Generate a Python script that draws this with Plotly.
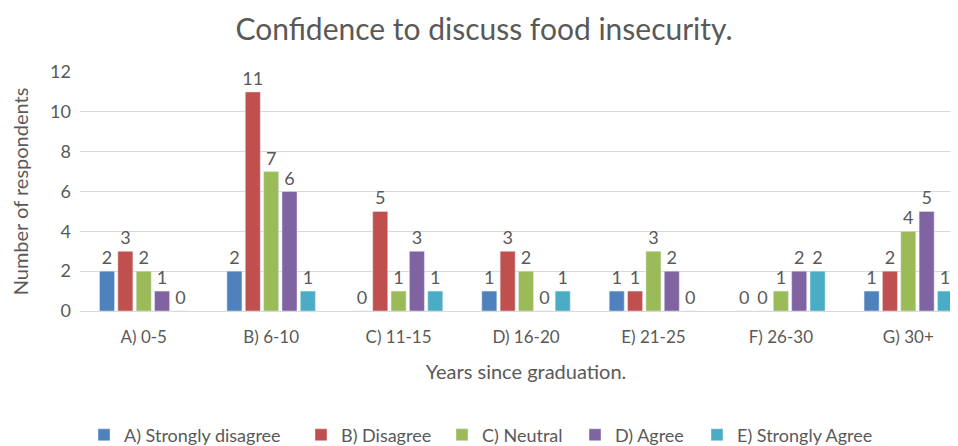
import plotly.graph_objects as go

categories = ["A) 0-5", "B) 6-10", "C) 11-15", "D) 16-20", "E) 21-25", "F) 26-30", "G) 30+"]
strongly_disagree = [2, 2, 0, 1, 1, 0, 1]
disagree = [3, 11, 5, 3, 1, 0, 2]
neutral = [2, 7, 1, 2, 3, 1, 4]
agree = [1, 6, 3, 0, 2, 2, 5]
strongly_agree = [0, 1, 1, 1, 0, 2, 1]

series = [
    ("A) Strongly disagree", strongly_disagree, "#4F81BD"),
    ("B) Disagree", disagree, "#C0504D"),
    ("C) Neutral", neutral, "#9BBB59"),
    ("D) Agree", agree, "#8064A2"),
    ("E) Strongly Agree", strongly_agree, "#4BACC6"),
]

grey = "#595959"
font_family = "Lato, Open Sans, sans-serif"

W, H = 969, 438
# left edge (px) of each legend entry, so items sit where the original has them
legend_x_px = [76, 293, 434, 567, 689]

fig = go.Figure()
legend_layout = {}
for i, (name, vals, color) in enumerate(series):
    key = "legend" if i == 0 else f"legend{i + 1}"
    fig.add_trace(go.Bar(
        x=categories,
        y=vals,
        name=name,
        marker_color=color,
        text=vals,
        textposition="outside",
        textfont=dict(size=18, color=grey),
        constraintext="none",
        cliponaxis=False,
        legend=key,
        showlegend=True,
    ))
    legend_layout[key] = dict(
        xref="container", yref="container",
        x=legend_x_px[i] / W, xanchor="left",
        y=0.025, yanchor="middle",
        orientation="h",
        font=dict(size=18, color=grey),
        itemwidth=30,
        bgcolor="rgba(0,0,0,0)",
    )

# page body has an 8px margin, so the figure is offset by 8px
fig.update_layout(
    width=W,
    height=H,
    showlegend=True,
    barmode="group",
    bargap=0.28,
    bargroupgap=0.18,
    plot_bgcolor="white",
    paper_bgcolor="white",
    font=dict(family=font_family, color=grey, size=18),
    title=dict(text="Confidence to discuss food insecurity.", x=476 / W, xanchor="center",
               y=0.952, yref="container", yanchor="middle", font=dict(size=30, color=grey)),
    margin=dict(l=72, r=5, t=64, b=135),
    xaxis=dict(
        title=dict(text="Years since graduation.", font=dict(size=20, color=grey), standoff=18),
        tickfont=dict(size=17, color=grey),
        ticklabelstandoff=11,
        showline=True, linecolor="#d9d9d9", ticks="",
        automargin=False,
    ),
    yaxis=dict(
        title=dict(text="Number of respondents", font=dict(size=20, color=grey), standoff=18),
        range=[0, 12],
        dtick=2,
        tickfont=dict(size=18, color=grey),
        ticklabelstandoff=8,
        gridcolor="#d9d9d9",
        zeroline=False,
        ticks="",
        automargin=False,
    ),
    **legend_layout,
)

fig.write_html("out.html")
